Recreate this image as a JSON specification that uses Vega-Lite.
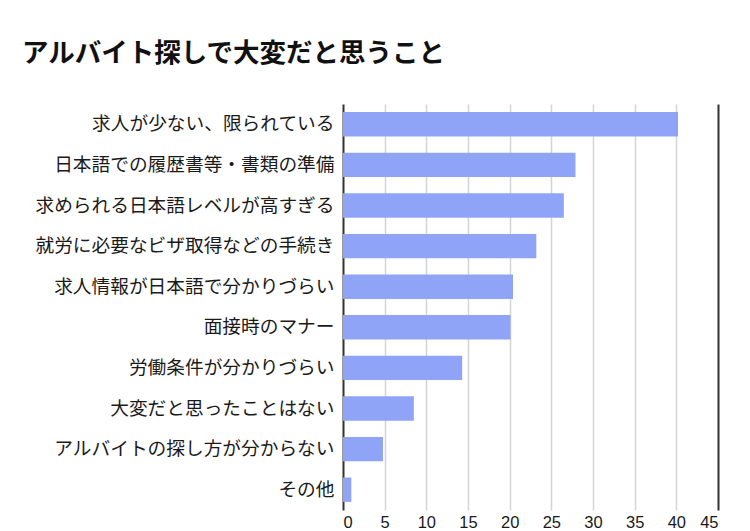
{
  "$schema": "https://vega.github.io/schema/vega-lite/v6.json",
  "width": 375,
  "height": 406,
  "autosize": "none",
  "padding": {"left": 343, "top": 104, "right": 32, "bottom": 21},
  "background": "white",
  "title": {
    "text": "アルバイト探しで大変だと思うこと",
    "anchor": "start",
    "frame": "group",
    "dx": -321,
    "offset": 37,
    "fontSize": 26.5,
    "font": "Noto Sans CJK JP",
    "fontWeight": "bold",
    "color": "#111"
  },
  "data": {
    "values": [
      {"item": "求人が少ない、限られている", "value": 40.2},
      {"item": "日本語での履歴書等・書類の準備", "value": 27.9},
      {"item": "求められる日本語レベルが高すぎる", "value": 26.5},
      {"item": "就労に必要なビザ取得などの手続き", "value": 23.2},
      {"item": "求人情報が日本語で分かりづらい", "value": 20.4},
      {"item": "面接時のマナー", "value": 20.1},
      {"item": "労働条件が分かりづらい", "value": 14.3},
      {"item": "大変だと思ったことはない", "value": 8.5},
      {"item": "アルバイトの探し方が分からない", "value": 4.8},
      {"item": "その他", "value": 1.0}
    ]
  },
  "mark": {"type": "bar", "color": "#8fa4f7"},
  "encoding": {
    "y": {
      "field": "item",
      "type": "nominal",
      "sort": null,
      "scale": {"paddingInner": 0.4, "paddingOuter": 0.2},
      "axis": {
        "title": null,
        "domain": false,
        "ticks": false,
        "labelPadding": 9,
        "labelFont": "Noto Sans CJK JP",
        "labelFontSize": 18.7,
        "labelColor": "#1a1a1a",
        "labelLimit": 400
      }
    },
    "x": {
      "field": "value",
      "type": "quantitative",
      "scale": {"domain": [0, 45], "nice": false},
      "axis": {
        "title": null,
        "values": [0, 5, 10, 15, 20, 25, 30, 35, 40, 45],
        "domain": false,
        "ticks": false,
        "labelPadding": 4,
        "labelFont": "Liberation Sans",
        "labelFontSize": 16.5,
        "labelColor": "#1a1a1a",
        "grid": true,
        "gridColor": {"condition": {"test": "datum.value === 0 || datum.value === 45", "value": "#333"}, "value": "#d4d4d4"},
        "gridWidth": {"condition": {"test": "datum.value === 0 || datum.value === 45", "value": 2}, "value": 1.5}
      }
    }
  },
  "config": {"view": {"stroke": null}}
}
